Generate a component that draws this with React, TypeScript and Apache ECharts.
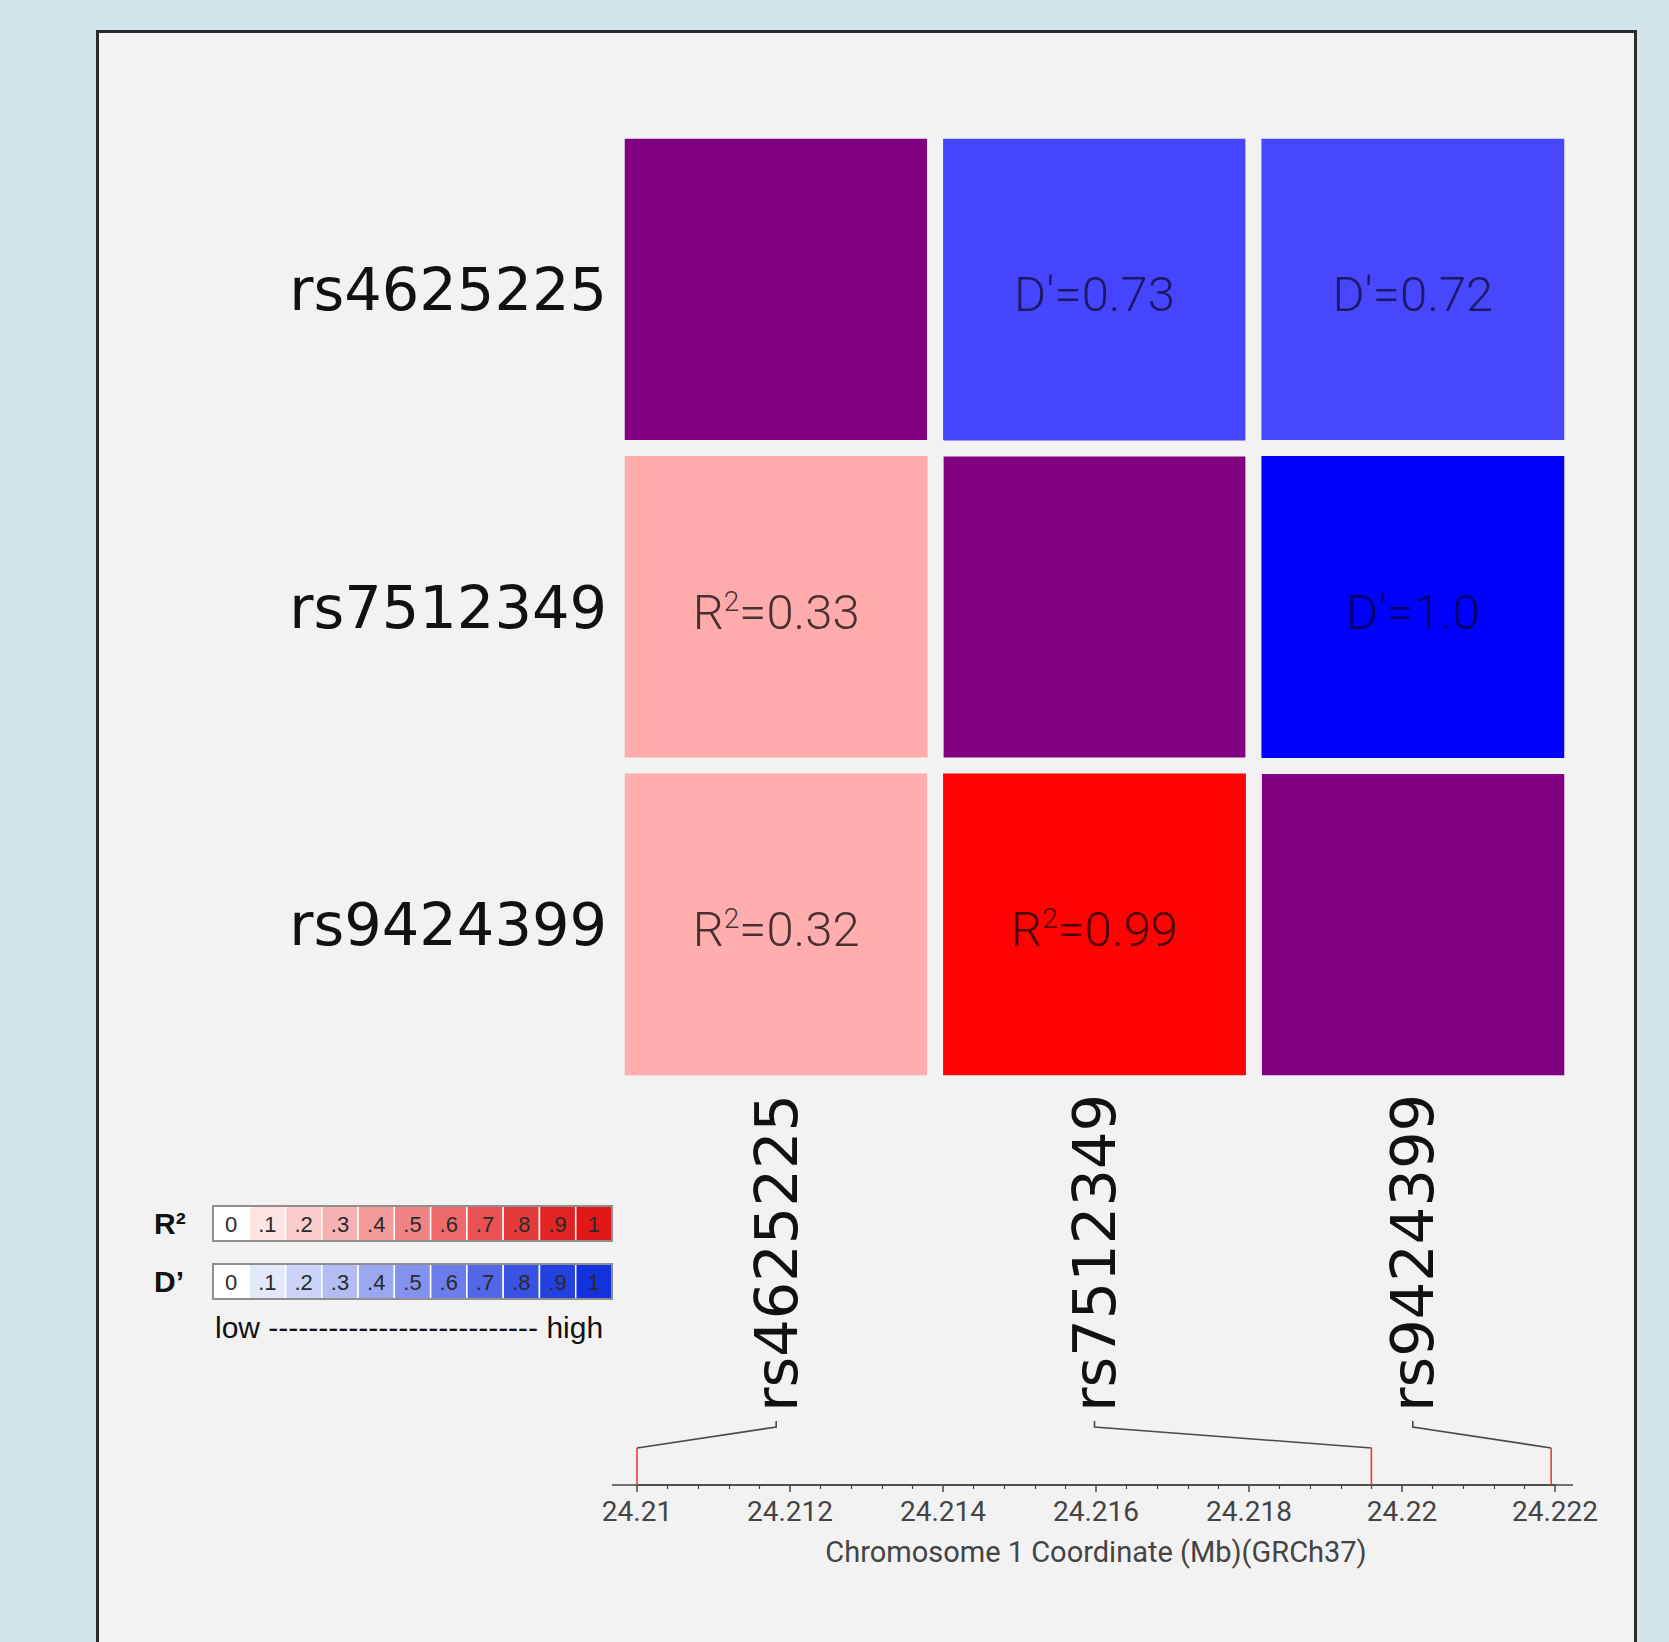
import React, { useEffect, useRef } from 'react';
import * as echarts from 'echarts';

const SNPS = ['rs4625225', 'rs7512349', 'rs9424399'];
const SNP_POSITIONS_MB = [24.21, 24.2196, 24.22195];
// [colIndex, rowIndex, value]
const DIAG_CELLS = [[0, 0, 1], [1, 1, 1], [2, 2, 1]];
const DPRIME_CELLS = [[1, 0, 0.73], [2, 0, 0.72], [2, 1, 1.0]];
const RSQ_CELLS = [[0, 1, 0.33], [0, 2, 0.32], [1, 2, 0.99]];
const COORD_MIN = 24.21;
const COORD_MAX = 24.222;
const COORD_STEP = 0.002;
const AXIS_TITLE = 'Chromosome 1 Coordinate (Mb)(GRCh37)';
const LEGEND_TICKS = ['0', '.1', '.2', '.3', '.4', '.5', '.6', '.7', '.8', '.9', '1'];
const RSQ_LEGEND_COLORS = ['#ffffff', '#fde4e4', '#f9cbcb', '#f6b2b2', '#f39a9a', '#f08383', '#ec6a6a', '#e95252', '#e53a3a', '#e22424', '#e01818'];
const DPRIME_LEGEND_COLORS = ['#ffffff', '#e4e8fb', '#ccd3f8', '#b3bdf4', '#9aa8f1', '#8292ed', '#6a7dea', '#5267e6', '#3a52e3', '#2340e0', '#1232dd'];

const BG_OUTER = '#d2e5ea';
const PANEL = '#f2f2f2';
const LABEL_FONT = 'DejaVu Sans';
const CELL_FONT = 'Roboto';

function legendBar(y: number, colors: string[], label: string) {
  const x0 = 213;
  const w = 399;
  const h = 35;
  const cw = w / colors.length;
  const els: any[] = [];
  els.push({
    type: 'text', z: 10, x: 154, y: y + h / 2,
    style: { text: label, font: 'bold 30px "Liberation Sans"', fill: '#111', verticalAlign: 'middle' },
  });
  colors.forEach((c, i) => {
    els.push({
      type: 'rect', z: 10,
      shape: { x: x0 + i * cw, y, width: cw, height: h },
      style: { fill: c, stroke: '#ffffff', lineWidth: 1.5 },
    });
    els.push({
      type: 'text', z: 11, x: x0 + i * cw + cw / 2, y: y + h / 2 + 1,
      style: { text: LEGEND_TICKS[i], font: '22px "Liberation Sans"', fill: '#2a2a2a', align: 'center', verticalAlign: 'middle' },
    });
  });
  els.push({
    type: 'rect', z: 12,
    shape: { x: x0, y, width: w, height: h },
    style: { fill: 'none', stroke: '#8f8f8f', lineWidth: 2 },
  });
  return els;
}

function buildOption(overlay: any[]) {
  const graphics: any[] = [
    {
      type: 'rect', z: -10, silent: true,
      shape: { x: 97.5, y: 31.5, width: 1538, height: 1700 },
      style: { fill: PANEL, stroke: '#2b2b2b', lineWidth: 3 },
    },
    ...legendBar(1206, RSQ_LEGEND_COLORS, 'R²'),
    ...legendBar(1264, DPRIME_LEGEND_COLORS, 'D’'),
    {
      type: 'text', z: 10, x: 215, y: 1327,
      style: { text: 'low --------------------------- high', font: '30px "Liberation Sans"', fill: '#111', verticalAlign: 'middle' },
    },
    ...overlay,
  ];

  const cellLabelBase = {
    show: true,
    offset: [0, 5],
    fontFamily: CELL_FONT,
    fontWeight: 300,
    fontSize: 49,
  };

  return {
    animation: false,
    backgroundColor: BG_OUTER,
    grid: [
      { left: 617, top: 131, width: 955, height: 952 },
      { left: 637, top: 1400, width: 918, height: 85 },
    ],
    xAxis: [
      {
        type: 'category', gridIndex: 0, data: SNPS, position: 'bottom',
        axisLine: { show: false }, axisTick: { show: false }, splitLine: { show: false },
        axisLabel: { rotate: 90, interval: 0, fontSize: 59, fontFamily: LABEL_FONT, color: '#111', margin: 11 },
      },
      {
        type: 'value', gridIndex: 1, min: COORD_MIN, max: COORD_MAX, interval: COORD_STEP,
        axisLine: { show: true, lineStyle: { color: '#444', width: 1.5 } },
        axisTick: { show: true, length: 7, lineStyle: { color: '#444', width: 1.5 } },
        minorTick: { show: true, splitNumber: 5, length: 4, lineStyle: { color: '#444', width: 1.2 } },
        splitLine: { show: false },
        axisLabel: { fontSize: 28, fontFamily: CELL_FONT, color: '#444', margin: 12 },
        name: AXIS_TITLE, nameLocation: 'middle', nameGap: 52,
        nameTextStyle: { fontSize: 29, fontFamily: CELL_FONT, color: '#444' },
      },
    ],
    yAxis: [
      {
        type: 'category', gridIndex: 0, data: SNPS, inverse: true,
        axisLine: { show: false }, axisTick: { show: false }, splitLine: { show: false },
        axisLabel: { fontSize: 59, fontFamily: LABEL_FONT, color: '#111', margin: 10 },
      },
      { type: 'value', gridIndex: 1, min: 0, max: 1, show: false },
    ],
    visualMap: [
      { type: 'continuous', show: false, seriesIndex: 0, min: 0, max: 1, inRange: { color: ['#800080', '#800080'] } },
      { type: 'continuous', show: false, seriesIndex: 1, min: 0, max: 1, inRange: { color: ['#ffffff', '#0000ff'] } },
      { type: 'continuous', show: false, seriesIndex: 2, min: 0, max: 1, inRange: { color: ['#ffffff', '#ff0000'] } },
    ],
    series: [
      {
        type: 'heatmap', xAxisIndex: 0, yAxisIndex: 0, data: DIAG_CELLS,
        itemStyle: { borderColor: PANEL, borderWidth: 16 },
        label: { show: false }, emphasis: { disabled: true },
      },
      {
        type: 'heatmap', xAxisIndex: 0, yAxisIndex: 0, data: DPRIME_CELLS,
        itemStyle: { borderColor: PANEL, borderWidth: 16 },
        emphasis: { disabled: true },
        label: {
          ...cellLabelBase,
          color: 'rgba(0,0,0,0.62)',
          formatter: (p: any) => {
            const v = p.value[2];
            return "D'=" + (Number.isInteger(v) ? v.toFixed(1) : String(v));
          },
        },
      },
      {
        type: 'heatmap', xAxisIndex: 0, yAxisIndex: 0, data: RSQ_CELLS,
        itemStyle: { borderColor: PANEL, borderWidth: 16 },
        emphasis: { disabled: true },
        label: {
          ...cellLabelBase,
          color: 'rgba(0,0,0,0.72)',
          formatter: (p: any) => '{r|R}{s|2}{r|=' + String(p.value[2]) + '}',
          rich: {
            r: { fontFamily: CELL_FONT, fontWeight: 300, fontSize: 49, color: 'rgba(0,0,0,0.72)' },
            s: { fontFamily: CELL_FONT, fontWeight: 300, fontSize: 28, color: 'rgba(0,0,0,0.72)', verticalAlign: 'top' },
          },
        },
      },
    ],
    graphic: { elements: graphics },
  };
}

function computeOverlay(chart: any) {
  const axisY = chart.convertToPixel({ yAxisIndex: 1 }, 0) as number;
  const minX = chart.convertToPixel({ xAxisIndex: 1 }, COORD_MIN) as number;
  const maxX = chart.convertToPixel({ xAxisIndex: 1 }, COORD_MAX) as number;
  const out: any[] = [
    {
      type: 'line', z: 5,
      shape: { x1: minX - 25, y1: axisY, x2: maxX + 18, y2: axisY },
      style: { stroke: '#444', lineWidth: 1.5 },
    },
  ];
  SNPS.forEach((_, i) => {
    const cx = chart.convertToPixel({ xAxisIndex: 0 }, i) as number;
    const mx = chart.convertToPixel({ xAxisIndex: 1 }, SNP_POSITIONS_MB[i]) as number;
    out.push({
      type: 'polyline', z: 6,
      shape: { points: [[cx, axisY - 64], [cx, axisY - 58], [mx, axisY - 37]] },
      style: { stroke: '#4a4a4a', lineWidth: 1.6, fill: null },
    });
    out.push({
      type: 'line', z: 6,
      shape: { x1: mx, y1: axisY - 37, x2: mx, y2: axisY },
      style: { stroke: '#ee3b3b', lineWidth: 1.6 },
    });
  });
  return out;
}

export default function App() {
  const ref = useRef<HTMLDivElement>(null);
  useEffect(() => {
    const el = ref.current;
    if (!el) return;
    const chart = echarts.init(el, null, { renderer: 'svg' });
    chart.setOption(buildOption([]) as any);
    const overlay = computeOverlay(chart);
    chart.setOption(buildOption(overlay) as any, true);
    return () => chart.dispose();
  }, []);
  return <div ref={ref} style={{ position: 'fixed', left: 0, top: 0, width: 1669, height: 1642 }} />;
}
